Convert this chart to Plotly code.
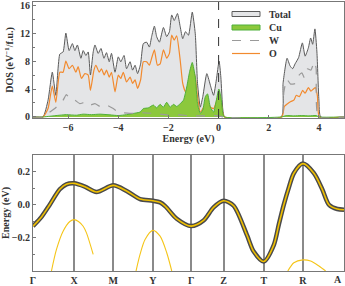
import plotly.graph_objects as go
from plotly.subplots import make_subplots

# ---------------- DOS data (top panel) ----------------
tot_E = [-7.4, -7.0, -6.8, -6.63, -6.49, -6.33, -6.2, -6.09, -5.96, -5.83, -5.73, -5.63, -5.49, -5.4, -5.29, -5.2, -5.11,
         -5.0, -4.93, -4.8, -4.69, -4.57, -4.47, -4.36, -4.27, -4.13, -4.0, -3.9, -3.77, -3.67, -3.53, -3.43, -3.33,
         -3.23, -3.11, -3.0, -2.87, -2.76, -2.67, -2.56, -2.47, -2.36, -2.2, -2.07, -1.96, -1.87, -1.77, -1.64, -1.53,
         -1.43, -1.32, -1.2, -1.05, -0.93, -0.84, -0.73, -0.63, -0.47, -0.31, -0.2, -0.09, 0.02, 0.09, 0.17, 0.24,
         2.5, 2.57, 2.73, 2.85, 2.95, 3.05, 3.19, 3.34, 3.45, 3.58, 3.67, 3.75, 3.84, 3.92, 4.0, 4.07, 5.0]
tot_D = [0, 0, 2.4, 6.4, 3.1, 9.0, 9.3, 12.0, 9.5, 10.5, 9.5, 10.3, 8.4, 9.5, 8.8, 9.3, 6.0,
         9.3, 10.3, 9.1, 9.8, 8.4, 9.2, 7.9, 9.1, 6.4, 8.6, 7.9, 8.8, 6.9, 7.9, 6.7, 7.4,
         6.2, 7.6, 10.5, 10.7, 10.0, 11.5, 13.0, 11.5, 10.7, 12.8, 11.5, 12.2, 14.6, 13.8, 14.8, 12.9,
         11.2, 12.2, 11.7, 15.0, 11.9, 4.8, 1.4, 2.9, 6.2, 4.3, 3.1, 5.3, 8.0, 5.7, 1.0, 0,
         0, 4.8, 8.4, 7.3, 6.9, 7.6, 8.5, 10.6, 8.7, 9.9, 11.3, 10.4, 12.6, 9.3, 2.4, 0, 0]

o_E = [-7.4, -7.0, -6.8, -6.63, -6.49, -6.33, -6.2, -6.09, -5.96, -5.83, -5.69, -5.6, -5.47, -5.33, -5.2, -5.11,
       -4.97, -4.89, -4.76, -4.67, -4.56, -4.47, -4.36, -4.27, -4.13, -4.0, -3.9, -3.8, -3.67, -3.53, -3.43, -3.33,
       -3.23, -3.11, -3.0, -2.87, -2.76, -2.67, -2.56, -2.44, -2.33, -2.2, -2.07, -1.96, -1.87, -1.77, -1.67, -1.53,
       -1.43, -1.32, -1.2, -1.07, -0.93, -0.84, -0.73, -0.6, -0.47, -0.33, -0.2, -0.07, 0.02, 0.09, 0.17, 0.23,
       2.52, 2.62, 2.75, 2.88, 3.0, 3.1, 3.22, 3.35, 3.45, 3.58, 3.68, 3.78, 3.86, 3.94, 4.02, 5.0]
o_D = [0, 0, 1.2, 4.4, 2.1, 6.4, 6.4, 8.0, 6.9, 7.4, 6.4, 7.2, 5.5, 6.2, 6.0, 3.8,
       6.7, 7.4, 6.4, 6.9, 6.0, 6.7, 5.7, 6.4, 3.6, 6.0, 5.5, 6.4, 5.0, 5.7, 4.8, 5.3,
       4.1, 5.3, 7.9, 7.9, 7.4, 8.4, 9.6, 7.4, 7.6, 9.6, 8.4, 9.1, 11.7, 11.0, 11.6, 8.1,
       4.8, 3.6, 4.8, 7.2, 5.7, 2.9, 0.7, 1.4, 2.4, 1.4, 1.2, 2.4, 3.4, 2.4, 0.5, 0,
       0, 1.5, 1.9, 2.2, 2.4, 3.1, 2.9, 3.8, 3.4, 4.2, 3.7, 4.0, 4.2, 3.0, 0, 0]

w_E = [-7.4, -7.0, -6.73, -6.53, -6.33, -6.2, -6.07, -5.93, -5.73, -5.53, -5.33, -5.13, -4.93, -4.73, -4.47, -4.2,
       -4.0, -3.8, -3.4, -3.0, -2.6, -2.07, -1.8, -1.53, -1.27, -0.87, -0.47, -0.07, 0.2,
       2.5, 2.6, 2.72, 2.87, 3.05, 3.19, 3.32, 3.42, 3.55, 3.68, 3.82, 3.89, 3.98, 5.0]
w_D = [0, 0, 0.7, 1.2, 1.9, 2.4, 3.2, 2.6, 2.4, 1.9, 2.1, 1.7, 1.9, 1.5, 1.7, 1.2,
       0.7, 0.6, 0.5, 0.6, 0.5, 0.3, 0.15, 0.3, 0.2, 0.15, 0.15, 0.2, 0,
       0, 3.5, 5.4, 4.7, 4.8, 5.9, 6.3, 5.6, 6.9, 6.7, 7.9, 6.9, 0, 0]

cu_E = [-7.4, -7.0, -6.73, -6.33, -6.07, -5.67, -5.4, -5.07, -4.73, -4.33, -4.0, -3.67, -3.4, -3.13, -3.0, -2.8,
        -2.6, -2.47, -2.33, -2.2, -2.07, -1.93, -1.8, -1.67, -1.53, -1.4, -1.27, -1.16, -1.05, -0.93, -0.84, -0.73,
        -0.63, -0.53, -0.44, -0.33, -0.2, -0.09, 0.01, 0.09, 0.17, 0.23,
        2.5, 2.7, 3.0, 3.3, 3.6, 3.9, 4.0, 5.0]
cu_D = [0, 0, 0.1, 0.25, 0.33, 0.25, 0.4, 0.33, 0.4, 0.3, 0.2, 0.33, 0.5, 0.7, 1.2, 1.3,
        1.7, 1.3, 1.8, 1.4, 2.1, 1.4, 1.8, 1.5, 1.9, 2.4, 4.3, 6.4, 7.8, 5.7, 1.9, 0.5,
        1.0, 2.9, 3.3, 1.4, 0.7, 2.4, 4.0, 2.9, 0.5, 0,
        0, 0.2, 0.15, 0.2, 0.15, 0.2, 0, 0]

dos_ticks = [0, 4, 8, 12, 16]
e_ticks = [-6, -4, -2, 0, 2, 4]

# ---------------- band data (bottom panel) ----------------
k_ticks = [0, 41, 80, 119.4, 157.7, 190, 230, 269, 310]
k_labels = ["Γ", "X", "M", "Y", "Γ", "Z", "T", "R", "A"]

b1_k = [0, 8.3, 16.7, 26.7, 33.3, 41, 51.7, 63.3, 80, 93.3, 106.7, 119.4, 126.7, 132, 143.3, 157.7, 170, 180, 190,
        200, 213.3, 220, 230, 240, 245, 250, 255, 260, 269, 280, 288.3, 295, 303.3, 310]
b1_e = [-0.129, -0.075, 0, 0.093, 0.123, 0.129, 0.109, 0.077, 0.117, 0.083, 0.034, 0.024, 0.014, -0.01, -0.085,
        -0.129, -0.095, -0.016, 0.024, -0.006, -0.184, -0.283, -0.343, -0.244, -0.12, 0, 0.103, 0.19, 0.248, 0.19,
        0.093, 0.0, -0.026, -0.03]

b2_k = [18.4, 23.4, 30, 36.7, 41, 45.3, 50, 53.3, 60]
b2_e = [-0.40, -0.27, -0.16, -0.101, -0.09, -0.101, -0.13, -0.17, -0.30]
b3_k = [102.7, 106.7, 111.7, 119.4, 126.7, 133.3, 138.3]
b3_e = [-0.40, -0.30, -0.21, -0.155, -0.19, -0.29, -0.40]
b4_k = [254, 260, 269, 276.7, 285, 291.7]
b4_e = [-0.40, -0.35, -0.333, -0.34, -0.37, -0.40]

legend_names = ["Total", "Cu", "W", "O"]

FONT = "Liberation Serif"
C_TOT_LINE, C_TOT_FILL = "#5a5a5a", "#e4e5e7"
C_CU_LINE, C_CU_FILL = "#4fb03a", "#8cc83c"
C_W, C_O = "#9a9a9a", "#f28a2e"

ML, MR, MT, MB, W, H = 33, 1, 2, 15, 345, 286
PW, PH = W - ML - MR, H - MT - MB

fig = make_subplots(rows=2, cols=1, vertical_spacing=0.0)
fig.update_layout(
    xaxis=dict(domain=[0, 1], anchor="y"),
    yaxis=dict(domain=[(H - MB - 118) / PH, 1.0], anchor="x"),
    xaxis2=dict(domain=[0, 1], anchor="y2"),
    yaxis2=dict(domain=[0.0, (H - MB - 155) / PH], anchor="x2"),
)

# Top panel
fig.add_trace(go.Scatter(x=tot_E, y=tot_D, name="Total", mode="lines", fill="tozeroy", showlegend=False,
                         fillcolor=C_TOT_FILL, line=dict(color=C_TOT_LINE, width=1, shape="spline", smoothing=0.5)),
              row=1, col=1)
fig.add_trace(go.Scatter(x=o_E, y=o_D, name="O", mode="lines", showlegend=False,
                         line=dict(color=C_O, width=1.2, shape="spline", smoothing=0.5)), row=1, col=1)
fig.add_trace(go.Scatter(x=cu_E, y=cu_D, name="Cu", mode="lines", fill="tozeroy", showlegend=False,
                         fillcolor=C_CU_FILL, line=dict(color=C_CU_LINE, width=1, shape="spline", smoothing=0.5)),
              row=1, col=1)
fig.add_trace(go.Scatter(x=w_E, y=w_D, name="W", mode="lines", showlegend=False,
                         line=dict(color=C_W, width=1.2, dash="dash", shape="spline", smoothing=0.5)), row=1, col=1)
fig.add_vline(x=0, line=dict(color="#333", width=1, dash="dash"), row=1, col=1)

# Bottom panel
fig.add_hline(y=0, line=dict(color="#333", width=1.2, dash="dash"), row=2, col=1)
for bk, be in [(b2_k, b2_e), (b3_k, b3_e), (b4_k, b4_e)]:
    fig.add_trace(go.Scatter(x=bk, y=be, mode="lines", showlegend=False,
                             line=dict(color="#f5c518", width=1.1, shape="spline", smoothing=0.8)), row=2, col=1)
fig.add_trace(go.Scatter(x=b1_k, y=b1_e, mode="lines", showlegend=False,
                         line=dict(color="#4a4a4a", width=4.5, shape="spline", smoothing=0.8)), row=2, col=1)
fig.add_trace(go.Scatter(x=b1_k, y=b1_e, mode="lines", showlegend=False,
                         line=dict(color="#f0c000", width=1.6, shape="spline", smoothing=0.8)), row=2, col=1)

# Custom legend (paper coordinates)
def px2x(px):
    return (px - ML) / PW

def py2y(py):
    return (H - MB - py) / PH

sw_x0, sw_x1, txt_x = px2x(232), px2x(260), px2x(267)
rows_py = [14, 27.5, 40.5, 53.5]
fig.add_shape(type="rect", xref="paper", yref="paper", x0=sw_x0, x1=sw_x1, y0=py2y(rows_py[0] + 2.5),
              y1=py2y(rows_py[0] - 2.5), fillcolor=C_TOT_FILL, line=dict(color=C_TOT_LINE, width=1))
fig.add_shape(type="rect", xref="paper", yref="paper", x0=sw_x0, x1=sw_x1, y0=py2y(rows_py[1] + 2.5),
              y1=py2y(rows_py[1] - 2.5), fillcolor=C_CU_FILL, line=dict(color=C_CU_LINE, width=1))
fig.add_shape(type="line", xref="paper", yref="paper", x0=sw_x0, x1=sw_x1, y0=py2y(rows_py[2]),
              y1=py2y(rows_py[2]), line=dict(color=C_W, width=1.2, dash="dash"))
fig.add_shape(type="line", xref="paper", yref="paper", x0=sw_x0, x1=sw_x1, y0=py2y(rows_py[3]),
              y1=py2y(rows_py[3]), line=dict(color=C_O, width=1.2))
for name, py in zip(legend_names, rows_py):
    fig.add_annotation(x=txt_x, y=py2y(py), xref="paper", yref="paper", text=name, showarrow=False,
                       xanchor="left", yanchor="middle",
                       font=dict(family=FONT, size=10, color="#333", weight="bold"))

axfont = dict(family=FONT, size=10, color="#333", weight="bold")
common = dict(showline=True, mirror=True, linecolor="#777", linewidth=1, zeroline=False, automargin=False,
              tickfont=axfont, ticks="inside", tickcolor="#777", ticklabeloverflow="allow")

# last k-point label placed as right-anchored text so it stays inside the figure
k_ticktext = k_labels[:-1] + [""]
fig.add_annotation(x=k_ticks[-1], y=py2y(279.5), xref="x2", yref="paper", text=k_labels[-1], showarrow=False,
                   xanchor="right", yanchor="middle", font=axfont)

fig.update_xaxes(row=1, col=1, range=[-7.4, 5], tickvals=e_ticks, showgrid=False, ticklen=3,
                 title=dict(text="Energy (eV)", font=axfont, standoff=0), **common)
fig.update_yaxes(row=1, col=1, range=[-0.15, 16.45], tickvals=dos_ticks, showgrid=False, ticklen=3,
                 title=dict(text="DOS (eV<sup>−1</sup>/f.u.)", font=axfont, standoff=4),
                 minor=dict(ticks="inside", ticklen=2, tickcolor="#777", dtick=2), **common)
fig.update_xaxes(row=2, col=1, range=[0, 310], tickvals=k_ticks, ticktext=k_ticktext, ticklen=0,
                 showgrid=True, gridcolor="#8a8a8a", gridwidth=1.5, **common)
fig.update_yaxes(row=2, col=1, range=[-0.4, 0.3], tickvals=[-0.2, 0.0, 0.2], ticktext=["−0.2", "0.0", "0.2"],
                 showgrid=False, ticklen=3, minor=dict(ticks="inside", ticklen=2, tickcolor="#777", dtick=0.1),
                 title=dict(text="Energy (eV)", font=axfont, standoff=4), **common)

fig.update_layout(
    width=W, height=H, margin=dict(l=ML, r=MR, t=MT, b=MB),
    paper_bgcolor="white", plot_bgcolor="white",
    font=dict(family=FONT, size=10, color="#333"),
    showlegend=False,
)

fig.write_html("out.html", config={"displayModeBar": False},
               post_script="document.body.style.margin='0';")
